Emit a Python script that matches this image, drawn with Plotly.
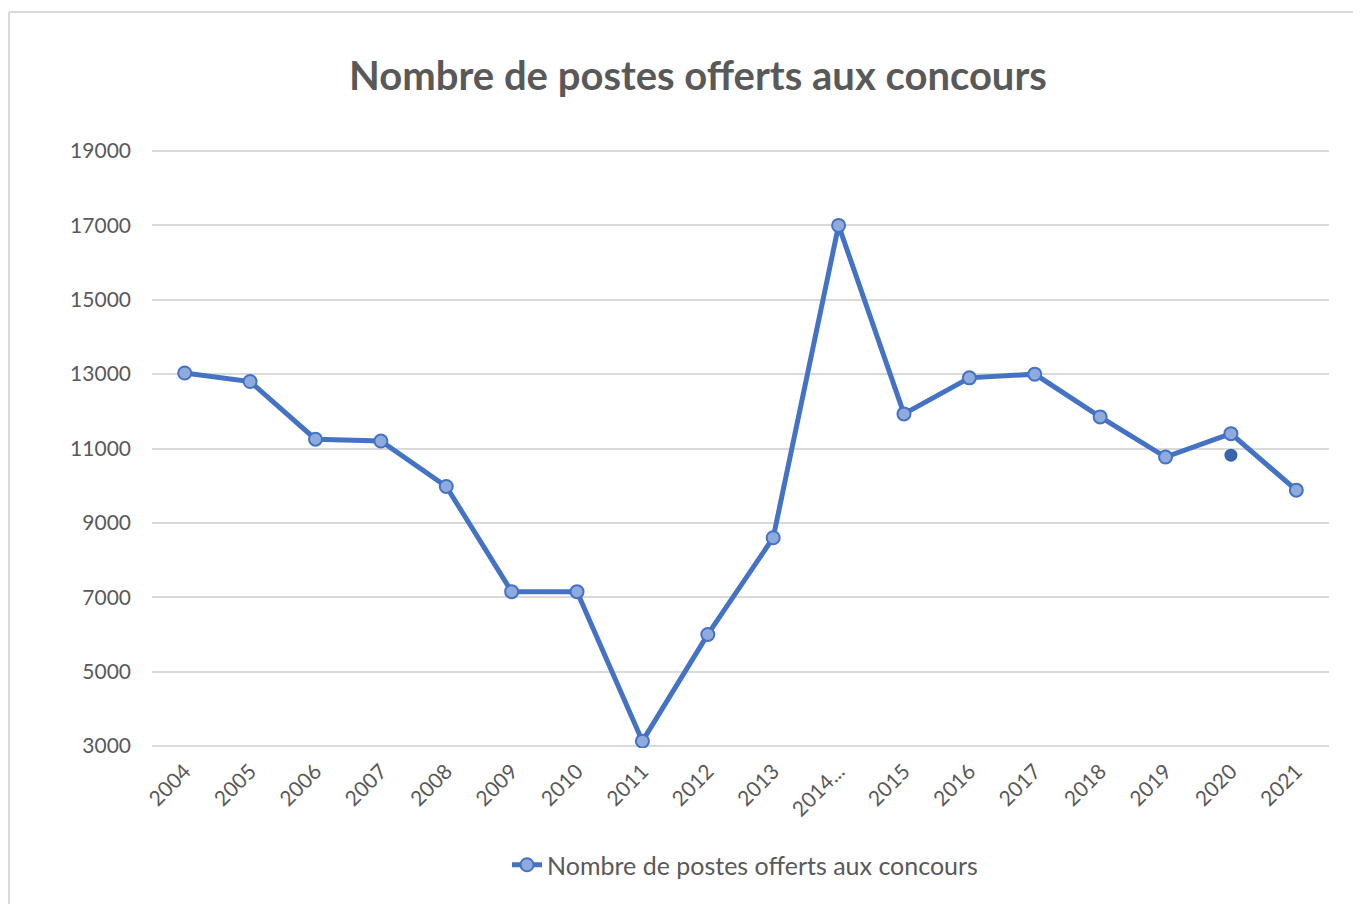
import plotly.graph_objects as go

years = ["2004", "2005", "2006", "2007", "2008", "2009", "2010", "2011", "2012",
         "2013", "2014...", "2015", "2016", "2017", "2018", "2019", "2020", "2021"]
postes = [13030, 12800, 11250, 11200, 9980, 7150, 7150, 3130, 6000,
          8600, 17000, 11930, 12900, 13000, 11850, 10770, 11400, 9880]
extra_year = ["2020"]
extra_value = [10820]
y_ticks = [3000, 5000, 7000, 9000, 11000, 13000, 15000, 17000, 19000]

series_name = "Nombre de postes offerts aux concours"
title_text = "Nombre de postes offerts aux concours"

FONT = "Lato"
GRAY = "#595959"

fig = go.Figure()
fig.add_trace(go.Scatter(
    x=years, y=postes, mode="lines+markers", name=series_name,
    line=dict(color="#4472C4", width=5),
    marker=dict(size=13, color="#8FAADC", line=dict(color="#4472C4", width=2)),
))
fig.add_trace(go.Scatter(
    x=extra_year, y=extra_value, mode="markers", showlegend=False,
    marker=dict(size=13, color="#3A63AE"),
))

OFF = 8  # default page body margin
W, H = 1361 - OFF, 904 - OFF
PAD = 2  # px of padding so edge gridlines are drawn
L, T = 152 - OFF, 151 - OFF - PAD
R = W - (1329 - OFF)
B = H - (746 - OFF) - PAD
pw, ph = W - L - R, H - T - B
upp = 16000 / 595.0  # data units per pixel
ymin, ymax = 3000 - PAD * upp, 19000 + PAD * upp
bx = (9 - OFF - L) / pw
by = (H - B - (12 - OFF)) / ph

fig.update_layout(
    width=W, height=H,
    margin=dict(l=L, r=R, t=T, b=B),
    paper_bgcolor="white", plot_bgcolor="white",
    title=dict(text="<b>" + title_text + "</b>", x=(698 - OFF) / W,
               xanchor="center", y=1 - (76 - OFF) / H, yanchor="middle",
               font=dict(family=FONT, size=40, color=GRAY)),
    xaxis=dict(type="category", range=[-0.5, len(years) - 0.5], tickangle=-45,
               showgrid=False, showline=False, ticks="", ticklabelstandoff=6,
               tickfont=dict(family=FONT, size=21, color=GRAY)),
    yaxis=dict(range=[ymin, ymax], tickvals=y_ticks, tickformat="d", showgrid=True,
               gridcolor="#D9D9D9", gridwidth=2, zeroline=False, showline=False,
               ticklabelstandoff=20,
               tickfont=dict(family=FONT, size=21, color=GRAY)),
    legend=dict(orientation="h", x=(745 - 152) / pw, xanchor="center",
                y=(H - B - (865 - OFF)) / ph, yanchor="middle",
                font=dict(family=FONT, size=25, color=GRAY)),
    shapes=[
        dict(type="line", xref="paper", yref="paper", x0=bx, x1=bx, y0=by, y1=-0.5,
             line=dict(color="#D9D9D9", width=2)),
        dict(type="line", xref="paper", yref="paper", x0=bx, x1=1.2, y0=by, y1=by,
             line=dict(color="#D9D9D9", width=2)),
    ],
)

fig.write_html("out.html")
